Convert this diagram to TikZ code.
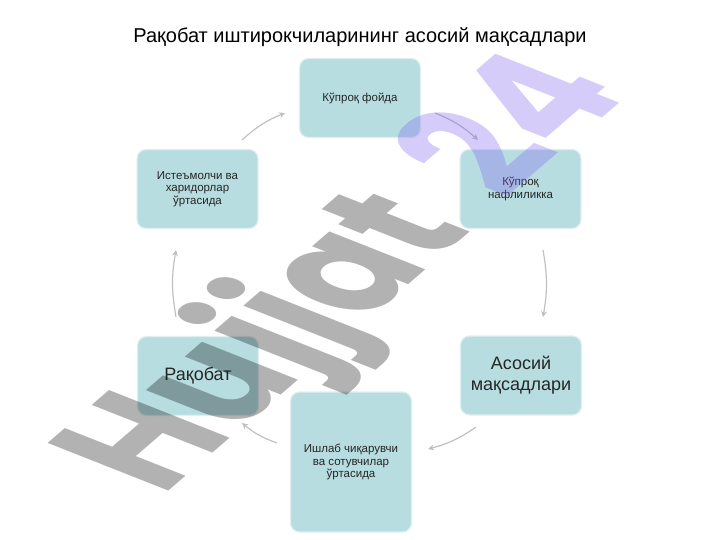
\documentclass[tikz,border=0pt]{standalone}
\usepackage{fontspec}
\setmainfont{Liberation Sans}
\newfontfamily\wmfont{Poppins}
\usetikzlibrary{arrows.meta}
\definecolor{boxfill}{RGB}{183,221,224}
\definecolor{boxline}{RGB}{226,239,241}
\definecolor{arrowgray}{RGB}{192,192,192}
\definecolor{wmviolet}{RGB}{130,100,240}
\begin{document}
\begin{tikzpicture}[x=1bp,y=-1bp,
  cbox/.style={draw=boxline, line width=1.2bp, fill=boxfill, rounded corners=9bp,
    minimum width=121bp, minimum height=79bp, align=center, inner sep=2bp,
    font=\fontsize{11.5bp}{12.5bp}\selectfont, text=black!85},
  bigtext/.style={font=\fontsize{18bp}{21bp}\selectfont},
  cyc/.style={draw=arrowgray, line width=1.2bp, -{Stealth[length=6bp,width=6bp]}, bend left=10},
  wm/.style={inner sep=0pt, transform shape, font=\wmfont\bfseries\fontsize{100bp}{100bp}\selectfont}
]
\useasboundingbox (0,0) rectangle (720,540);

\node[anchor=base, font=\fontsize{20bp}{24bp}\selectfont] (title) at (360,43)
  {Рақобат иштирокчиларининг асосий мақсадлари};

\node[cbox] (top) at (360,98) {Кўпроқ фойда};
\node[cbox] (ru) at (520.5,189) {Кўпроқ\\нафлиликка};
\node[cbox, bigtext] (rl) at (521,375.5) {Асосий\\мақсадлари};
\node[cbox, minimum height=140bp] (bot) at (351,462) {Ишлаб чиқарувчи\\ва сотувчилар\\ўртасида};
\node[cbox, bigtext] (ll) at (198,376) {Рақобат};
\node[cbox] (lu) at (197.5,189) {Истеъмолчи ва\\харидорлар\\ўртасида};

\coordinate (a1s) at (242,140); \coordinate (a1e) at (285,113);
\coordinate (a2s) at (435,113); \coordinate (a2e) at (478,140);
\coordinate (a3s) at (543,250); \coordinate (a3e) at (543,317);
\coordinate (a4s) at (476,427); \coordinate (a4e) at (428,449);
\coordinate (a5s) at (277,443); \coordinate (a5e) at (242,423);
\coordinate (a6s) at (176,317); \coordinate (a6e) at (176,250);

\draw[cyc] (a1s) to (a1e);
\draw[cyc] (a2s) to (a2e);
\draw[cyc] (a3s) to (a3e);
\draw[cyc] (a4s) to (a4e);
\draw[cyc] (a5s) to (a5e);
\draw[cyc] (a6s) to (a6e);

\begin{scope}[cm={1.01,0.87,-1.72,0.68,(162bp,-497bp)}]
  \node[wm, anchor=base west, text=black, text opacity=0.3] (wm1) at (0,0) {Hujjat};
  \node[wm, anchor=base west, text=wmviolet, text opacity=0.33] (wm2) at ([xshift=32pt]wm1.base east) {24};
\end{scope}
\end{tikzpicture}
\end{document}
